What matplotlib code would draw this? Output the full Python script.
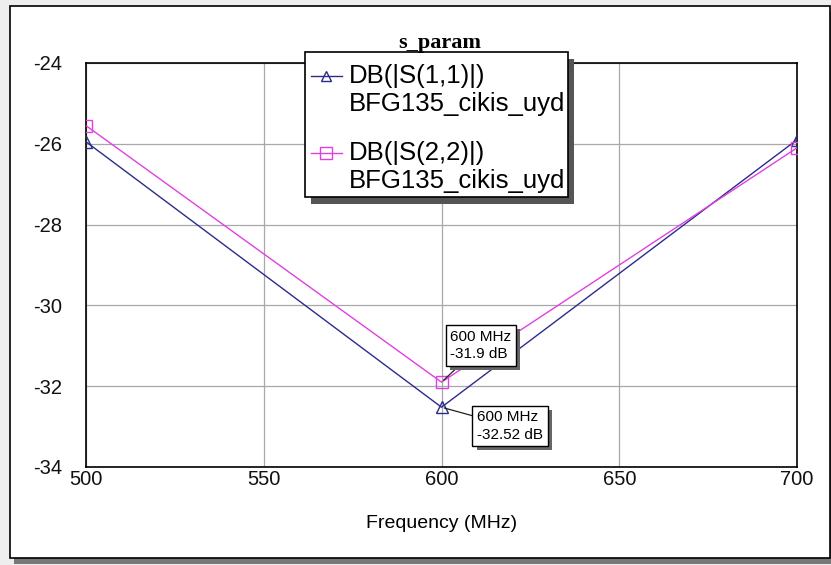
import matplotlib
matplotlib.use("Agg")
import matplotlib.pyplot as plt
from matplotlib.patches import Rectangle
from matplotlib.lines import Line2D
import matplotlib.patheffects as pe

plt.rcParams['font.family'] = ['Liberation Sans', 'DejaVu Sans']
plt.rcParams['axes.unicode_minus'] = False

# data
freq = [500, 600, 700]
s11_db = [-25.95, -32.52, -25.9]
s22_db = [-25.55, -31.9, -26.1]
s11_label = ["DB(|S(1,1)|)", "BFG135_cikis_uyd"]
s22_label = ["DB(|S(2,2)|)", "BFG135_cikis_uyd"]
marker_notes = [(600, -31.9, "600 MHz\n-31.9 dB"), (600, -32.52, "600 MHz\n-32.52 dB")]
x_ticks = [500, 550, 600, 650, 700]
y_ticks = [-34, -32, -30, -28, -26, -24]

blue = "#2b2b8c"
pink = "#e040e0"

W, H = 831, 565
fig = plt.figure(figsize=(W / 100, H / 100), dpi=100, facecolor="#eeeeee")


def fx(px):
    return px / W


def fy(py):
    return 1 - py / H


# outer frame with shadow
frame = Rectangle((fx(10), fy(558)), fx(830) - fx(10), fy(6) - fy(558),
                  transform=fig.transFigure, facecolor="white", edgecolor="black",
                  linewidth=1.2, zorder=0)
frame.set_path_effects([pe.withSimplePatchShadow(offset=(3, -4), shadow_rgbFace="#777777", alpha=1)])
fig.add_artist(frame)

ax = fig.add_axes([fx(86), fy(467), fx(797) - fx(86), fy(63) - fy(467)])
ax.set_facecolor("white")

ax.plot(freq, s11_db, color=blue, lw=1.0, marker="^", ms=8, mfc="none", mec=blue, mew=1.0, zorder=3)
ax.plot(freq, s22_db, color=pink, lw=1.0, marker="s", ms=9, mfc="none", mec=pink, mew=1.0, zorder=3)

ax.set_xlim(500, 700)
ax.set_ylim(-34, -24)
ax.set_xticks(x_ticks)
ax.set_yticks(y_ticks)
ax.grid(True, color="#a8a8a8", lw=0.9)
ax.tick_params(length=0, labelsize=14.5, colors="#111111")
ax.tick_params(axis="x", pad=2)
ax.tick_params(axis="y", pad=17)
for s in ax.spines.values():
    s.set_color("black")
    s.set_linewidth(1.2)
ax.set_xlabel("Frequency (MHz)", fontsize=14, labelpad=19)

# marker annotations
note_pos = [(602.5, -30.6), (610, -32.6)]
for (x, y, txt), (tx, ty) in zip(marker_notes, note_pos):
    ann = ax.annotate(txt, xy=(x, y), xytext=(tx, ty), textcoords="data",
                      fontsize=11, va="top", ha="left", linespacing=1.3,
                      bbox=dict(boxstyle="square,pad=0.3", fc="white", ec="black", lw=1.0),
                      arrowprops=dict(arrowstyle="-", color="#222222", lw=0.9,
                                      shrinkA=0, shrinkB=2),
                      zorder=5)
    ann.get_bbox_patch().set_path_effects(
        [pe.withSimplePatchShadow(offset=(3, -3), shadow_rgbFace="#666666", alpha=1)])

# legend box drawn by hand
leg = Rectangle((fx(305), fy(197)), fx(568) - fx(305), fy(52) - fy(197),
                transform=fig.transFigure, facecolor="white", edgecolor="black",
                linewidth=1.2, zorder=10)
leg.set_path_effects([pe.withSimplePatchShadow(offset=(4, -5), shadow_rgbFace="#555555", alpha=1)])
fig.add_artist(leg)
fig.text(fx(440), fy(43), "s_param", ha="center", va="center", fontsize=16,
         fontweight="bold", family="Liberation Serif", zorder=11)

for (lbl, col, mk, ms), yy in zip([(s11_label, blue, "^", 7), (s22_label, pink, "s", 9)], [76, 153]):
    fig.add_artist(Line2D([fx(311), fx(342)], [fy(yy), fy(yy)], transform=fig.transFigure,
                          color=col, lw=1.0, zorder=11))
    fig.add_artist(Line2D([fx(326)], [fy(yy)], transform=fig.transFigure, marker=mk, ms=ms,
                          mfc="none", mec=col, mew=1.0, zorder=11))
    fig.text(fx(349), fy(yy), lbl[0], ha="left", va="center", fontsize=18.5, zorder=11)
    fig.text(fx(349), fy(yy + 28), lbl[1], ha="left", va="center", fontsize=18.5, zorder=11)

fig.savefig("out.png", dpi=100, facecolor=fig.get_facecolor())
